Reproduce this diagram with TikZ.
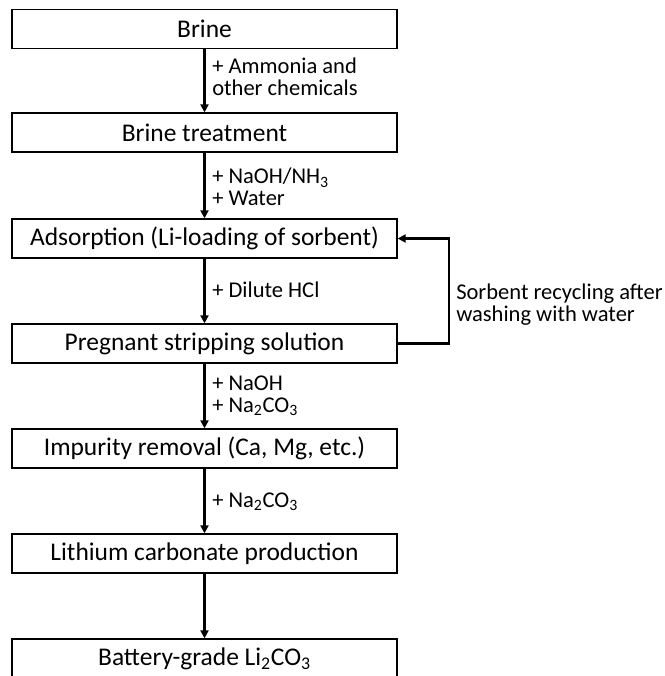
\documentclass[tikz,border=0pt]{standalone}
\usepackage{fontspec}
\setmainfont{Carlito}
\usetikzlibrary{arrows.meta}
\begin{document}
\begin{tikzpicture}[x=0.75pt,y=-0.75pt,
  proc/.style={draw, line width=1pt, minimum width=288.75pt, minimum height=29.25pt, inner sep=0pt, font=\fontsize{19.1}{20}\selectfont},
  flow/.style={line width=1.8pt, -{Triangle[length=6pt,width=6pt]}},
  lbl/.style={align=left, inner sep=0pt, anchor=west, font=\fontsize{16.9}{16.5}\selectfont}]
\path[use as bounding box] (0,0) rectangle (665,676);
\clip (0,0) rectangle (665,676);
\node[proc] (b1) at (204.5,29) {Brine};
\node[proc] (b2) at (204.5,132.5) {Brine treatment};
\node[proc] (b3) at (204.5,238.5) {Adsorption (Li-loading of sorbent)};
\node[proc] (b4) at (204.5,343.5) {Pregnant stripping solution};
\node[proc] (b5) at (204.5,448.5) {Impurity removal (Ca, Mg, etc.)};
\node[proc] (b6) at (204.5,553.5) {Lithium carbonate production};
\node[proc] (b7) at (204.5,658.5) {Battery-grade Li\textsubscript{2}CO\textsubscript{3}};
\draw[flow] (b1.south) -- (b2.north);
\draw[flow] (b2.south) -- (b3.north);
\draw[flow] (b3.south) -- (b4.north);
\draw[flow] (b4.south) -- (b5.north);
\draw[flow] (b5.south) -- (b6.north);
\draw[flow] (b6.south) -- (b7.north);
\node[lbl] (l1) at (212,77) {+ Ammonia and\\other chemicals};
\node[lbl] (l2) at (212,187) {+ NaOH/NH\textsubscript{3}\\+ Water};
\node[lbl] (l3) at (212,290) {+ Dilute HCl};
\node[lbl] (l4) at (212,396) {+ NaOH\\+ Na\textsubscript{2}CO\textsubscript{3}};
\node[lbl] (l5) at (212,502) {+ Na\textsubscript{2}CO\textsubscript{3}};
\coordinate (c1) at (449,343.5);
\coordinate (c2) at (449,238.5);
\draw[flow] (b4.east) -- (c1) -- (c2) -- (b3.east);
\node[lbl] (l6) at (456,305) {Sorbent recycling after\\washing with water};
\end{tikzpicture}
\end{document}
